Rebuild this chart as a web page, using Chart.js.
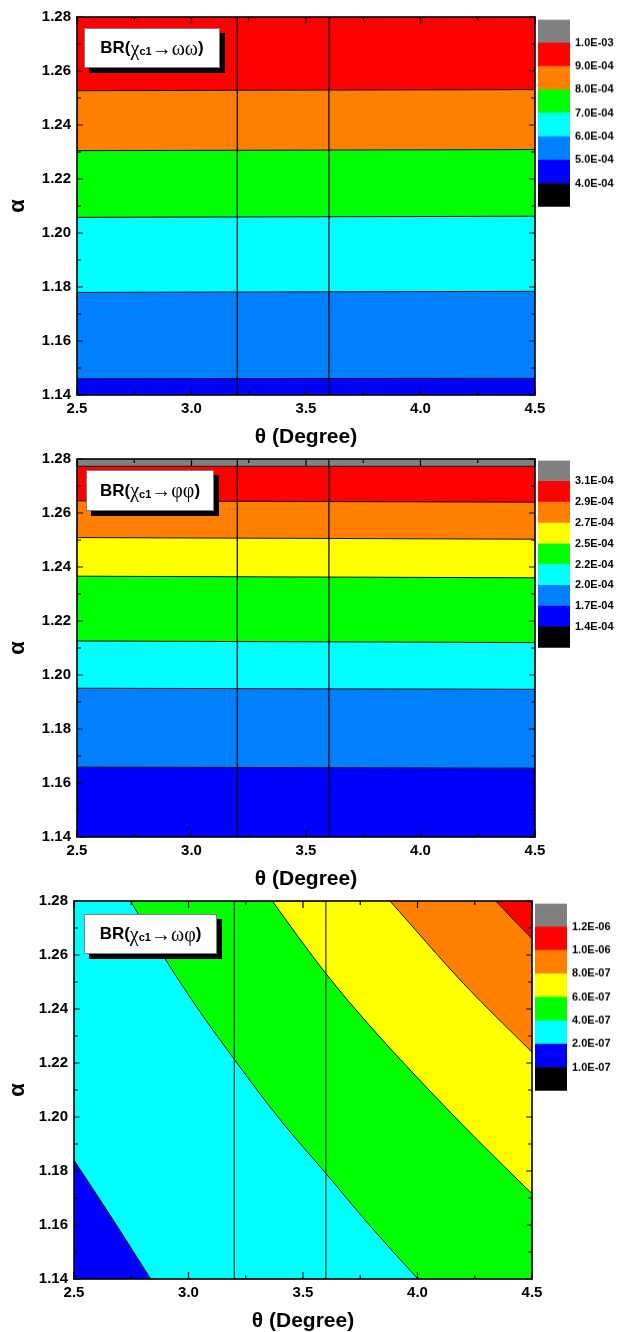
<!DOCTYPE html>
<html>
<head>
<meta charset="utf-8">
<script src="https://cdn.jsdelivr.net/npm/chart.js@4.4.1/dist/chart.umd.min.js"></script>
<style>
  html, body { margin: 0; padding: 0; background: #fff; width: 618px; height: 1332px; overflow: hidden; }
  .box { position: absolute; }
  .tag {
    position: absolute; box-sizing: border-box; background: #fff;
    border: 1px solid #808080; box-shadow: 5px 5px 0 #000;
    display: flex; align-items: center; justify-content: center;
    font: bold 17px Arial, "Liberation Sans", sans-serif; color: #000; white-space: nowrap;
  }
  .tag .g { font-family: "Liberation Serif", serif; font-weight: normal; font-size: 20px; }
  .tag sub { font-size: 11px; position: relative; top: 3px; vertical-align: baseline; }
</style>
</head>
<body>
<div class="box" style="left:0;top:0;width:555px;height:450px"><canvas id="main1"></canvas></div>
<div class="box" style="left:538px;top:8.3px;width:80px;height:209.4px"><canvas id="bar1"></canvas></div>
<div class="tag" style="left:84px;top:28px;width:136px;height:40px">BR(<span class="g">χ</span><sub>c1</sub><span class="g">→ωω</span>)</div>

<div class="box" style="left:0;top:442px;width:555px;height:450px"><canvas id="main2"></canvas></div>
<div class="box" style="left:538px;top:449px;width:80px;height:210.3px"><canvas id="bar2"></canvas></div>
<div class="tag" style="left:86px;top:470px;width:128px;height:41px">BR(<span class="g">χ</span><sub>c1</sub><span class="g">→φφ</span>)</div>

<div class="box" style="left:0;top:884px;width:555px;height:450px"><canvas id="main3"></canvas></div>
<div class="box" style="left:535px;top:892.3px;width:83px;height:209.4px"><canvas id="bar3"></canvas></div>
<div class="tag" style="left:84px;top:914px;width:133px;height:40px">BR(<span class="g">χ</span><sub>c1</sub><span class="g">→ωφ</span>)</div>

<script>
// axis ranges
const thetaRange = [2.5, 4.5];
const alphaRange = [1.14, 1.28];
// the two marked angles (vertical lines / box)
const markTheta = [3.2, 3.6];

// BR(chi_c1 -> omega omega): contour heights at theta = 2.5 and 4.5
const wwLeft  = [1.1460, 1.1780, 1.2058, 1.2305, 1.2527];
const wwRight = [1.1462, 1.1784, 1.2062, 1.2309, 1.2531];
const wwLevels = ['4.0E-04', '5.0E-04', '6.0E-04', '7.0E-04', '8.0E-04', '9.0E-04', '1.0E-03'];

// BR(chi_c1 -> phi phi)
const ffLeft  = [1.1659, 1.1951, 1.2126, 1.2366, 1.2509, 1.2645, 1.2773];
const ffRight = [1.1655, 1.1947, 1.2120, 1.2360, 1.2503, 1.2640, 1.2773];
const ffLevels = ['1.4E-04', '1.7E-04', '2.0E-04', '2.2E-04', '2.5E-04', '2.7E-04', '2.9E-04', '3.1E-04'];

// BR(chi_c1 -> omega phi): contour lines, [theta, alpha]
const wpLine2 = [[2.3, 1.210], [2.5, 1.184], [2.67, 1.162], [2.835, 1.140], [4.5, 0.92]];
const wpLine4 = [[2.5, 1.315], [2.747, 1.280], [2.902, 1.258], [3.05, 1.239], [3.203, 1.221], [3.40, 1.199], [3.601, 1.179], [3.80, 1.159], [4.002, 1.140], [4.6, 1.085]];
const wpLine6 = [[2.5, 1.38], [3.20, 1.300], [3.366, 1.280], [3.601, 1.253], [3.80, 1.233], [4.00, 1.2145], [4.25, 1.1925], [4.50, 1.1716], [4.7, 1.155]];
const wpLine8 = [[2.5, 1.42], [3.70, 1.297], [3.880, 1.280], [4.20, 1.2495], [4.50, 1.224], [4.7, 1.207]];
const wpLine10 = [[2.5, 1.45], [4.20, 1.293], [4.342, 1.280], [4.50, 1.266], [4.7, 1.249]];
const wpLevels = ['1.0E-07', '2.0E-07', '4.0E-07', '6.0E-07', '8.0E-07', '1.0E-06', '1.2E-06'];

const C = { black: '#000000', blue: '#0000FF', sky: '#0080FF', cyan: '#00FFFF', green: '#00FF00',
            yellow: '#FFFF00', orange: '#FF8000', red: '#FF0000', gray: '#808080' };
const FONT = "Arial, 'Liberation Sans', sans-serif";

// frame + inward ticks on all four sides
const frameTicks = {
  id: 'frameTicks',
  afterDatasetsDraw(chart) {
    const { ctx, chartArea: a, scales: { x, y } } = chart;
    const minors = s => {
      const v = s.ticks.map(t => t.value);
      return v.slice(1).map((t, i) => (t + v[i]) / 2);
    };
    ctx.save();
    ctx.strokeStyle = '#000';
    ctx.lineWidth = 1.2;
    ctx.beginPath();
    const xt = (vals, len) => vals.forEach(v => {
      const p = x.getPixelForValue(v);
      ctx.moveTo(p, a.bottom); ctx.lineTo(p, a.bottom - len);
      ctx.moveTo(p, a.top); ctx.lineTo(p, a.top + len);
    });
    const yt = (vals, len) => vals.forEach(v => {
      const p = y.getPixelForValue(v);
      ctx.moveTo(a.left, p); ctx.lineTo(a.left + len, p);
      ctx.moveTo(a.right, p); ctx.lineTo(a.right - len, p);
    });
    xt(x.ticks.map(t => t.value), 7); xt(minors(x), 4);
    yt(y.ticks.map(t => t.value), 6); yt(minors(y), 4);
    ctx.stroke();
    ctx.lineWidth = 1.6;
    ctx.strokeRect(a.left, a.top, a.width, a.height);
    ctx.restore();
  }
};

function contourChart(id, lines, bands, marks, yWidth, padRight, smooth) {
  const datasets = [];
  const n = lines.length;
  // band above the highest contour
  datasets.push({ data: lines[n - 1], fill: 'end', backgroundColor: bands[n], borderWidth: 0, order: 100 });
  // every contour fills the band just below it
  lines.forEach((d, k) => datasets.push({
    data: d, fill: 'start', backgroundColor: bands[k], borderColor: '#111', borderWidth: 1, order: 10 + k
  }));
  marks.forEach(m => datasets.push({ data: m.data, fill: false, borderColor: m.color, borderWidth: 1.2, order: 0 }));
  datasets.forEach(d => { d.pointRadius = 0; d.cubicInterpolationMode = smooth ? 'monotone' : 'default'; });

  new Chart(document.getElementById(id), {
    type: 'line',
    data: { datasets },
    options: {
      responsive: true, maintainAspectRatio: false, animation: false,
      layout: { padding: { top: 17, right: padRight, bottom: 0, left: 0 } },
      plugins: { legend: { display: false }, tooltip: { enabled: false } },
      scales: {
        x: {
          type: 'linear', min: thetaRange[0], max: thetaRange[1],
          grid: { display: false, drawTicks: false }, border: { display: false },
          ticks: { stepSize: 0.5, callback: v => v.toFixed(1), color: '#000', padding: 5, maxRotation: 0,
                   font: { family: FONT, weight: 'bold', size: 15 } },
          title: { display: true, text: 'θ (Degree)', color: '#000', padding: { top: 0, bottom: 0 },
                   font: { family: FONT, weight: 'bold', size: 21 } },
          afterFit: s => { s.height = 55; }
        },
        y: {
          type: 'linear', min: alphaRange[0], max: alphaRange[1],
          grid: { display: false, drawTicks: false }, border: { display: false },
          ticks: { stepSize: 0.02, callback: v => v.toFixed(2), color: '#000', padding: 6,
                   font: { family: FONT, weight: 'bold', size: 15 } },
          title: { display: true, text: 'α', color: '#000', padding: { top: 5, bottom: 0 },
                   font: { family: FONT, weight: 'bold', size: 22 } },
          afterFit: s => { s.width = yWidth; }
        }
      }
    },
    plugins: [frameTicks]
  });
}

function colorBar(id, colors, labels) {
  new Chart(document.getElementById(id), {
    type: 'bar',
    data: {
      labels: [''],
      datasets: colors.map(c => ({ data: [1], backgroundColor: c, borderWidth: 0,
                                   barPercentage: 1, categoryPercentage: 1 }))
    },
    options: {
      responsive: true, maintainAspectRatio: false, animation: false,
      layout: { padding: { top: 10, bottom: 10, left: 0, right: 0 } },
      plugins: { legend: { display: false }, tooltip: { enabled: false } },
      scales: {
        x: { display: false, stacked: true },
        y: {
          stacked: true, position: 'right', min: 0, max: colors.length,
          grid: { display: false, drawTicks: false }, border: { display: false },
          ticks: { stepSize: 1, autoSkip: false, padding: 5, color: '#000',
                   callback: v => labels[v - 1] || '',
                   font: { family: FONT, weight: 'bold', size: 11 } },
          afterFit: s => { s.width = s.chart.width - 32; }
        }
      }
    }
  });
}

const pts = arr => arr.map(([x, y]) => ({ x, y }));
const flat = (L, R) => L.map((l, i) => [{ x: thetaRange[0], y: l }, { x: thetaRange[1], y: R[i] }]);
const vlines = markTheta.map(t => ({ data: [{ x: t, y: alphaRange[0] }, { x: t, y: alphaRange[1] }], color: '#000' }));
const markBox = [{ color: '#333', data: [
  { x: markTheta[0], y: alphaRange[0] }, { x: markTheta[0], y: alphaRange[1] },
  { x: markTheta[1], y: alphaRange[1] }, { x: markTheta[1], y: alphaRange[0] },
  { x: markTheta[0], y: alphaRange[0] }] }];

contourChart('main1', flat(wwLeft, wwRight),
  [C.blue, C.sky, C.cyan, C.green, C.orange, C.red], vlines, 77, 20, false);
colorBar('bar1', [C.black, C.blue, C.sky, C.cyan, C.green, C.orange, C.red, C.gray], wwLevels);

contourChart('main2', flat(ffLeft, ffRight),
  [C.blue, C.sky, C.cyan, C.green, C.yellow, C.orange, C.red, C.gray], vlines, 77, 20, false);
colorBar('bar2', [C.black, C.blue, C.sky, C.cyan, C.green, C.yellow, C.orange, C.red, C.gray], ffLevels);

contourChart('main3', [wpLine2, wpLine4, wpLine6, wpLine8, wpLine10].map(pts),
  [C.blue, C.cyan, C.green, C.yellow, C.orange, C.red], markBox, 74, 23, true);
colorBar('bar3', [C.black, C.blue, C.cyan, C.green, C.yellow, C.orange, C.red, C.gray], wpLevels);
</script>
</body>
</html>
